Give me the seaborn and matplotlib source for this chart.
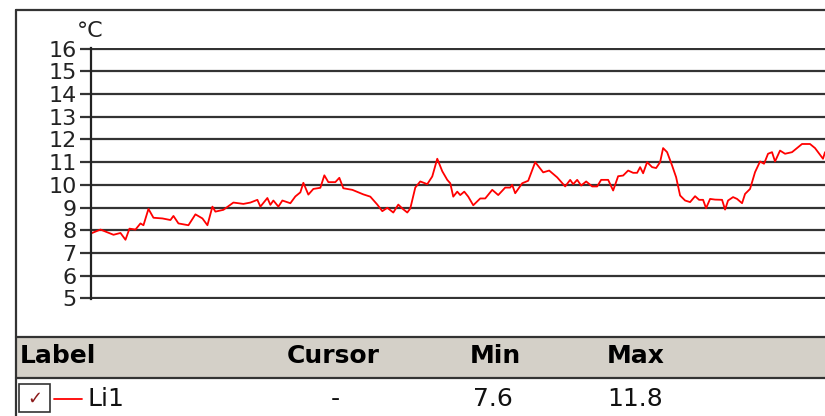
import matplotlib
matplotlib.use("Agg")
import matplotlib.pyplot as plt
import seaborn as sns
from matplotlib.lines import Line2D
from matplotlib.patches import Rectangle

# sample position (time axis, no labels) and temperature in degrees C
sample = [0, 10, 23, 30, 35, 39, 45, 50, 53, 58, 63, 72, 80, 83, 88, 98, 105, 112, 117, 122,
          125, 133, 143, 153, 160, 167, 170, 177, 180, 183, 188, 192, 200, 205, 210, 213, 218,
          223, 230, 234, 238, 245, 249, 253, 262, 273, 280, 287, 292, 297, 303, 308, 312, 317,
          320, 325, 330, 337, 342, 347, 352, 357, 360, 363, 367, 370, 374, 378, 383, 390, 395,
          402, 408, 415, 420, 422, 425, 432, 438, 445, 453, 459, 467, 475, 480, 483, 487, 491,
          496, 502, 507, 511, 518, 523, 528, 533, 538, 543, 547, 550, 553, 557, 562, 566, 570,
          573, 577, 582, 586, 590, 595, 600, 605, 609, 613, 616, 620, 625, 632, 635, 638, 643,
          647, 652, 655, 660, 665, 670, 674, 678, 682, 685, 690, 695, 702, 707, 712, 718, 720,
          725, 733, 735]
temp_c = [7.85, 8.03, 7.8, 7.88, 7.58, 8.07, 8.03, 8.3, 8.22, 8.94, 8.55, 8.52, 8.45, 8.63,
          8.3, 8.22, 8.7, 8.52, 8.22, 9.04, 8.82, 8.9, 9.22, 9.16, 9.22, 9.34, 9.04, 9.42, 9.12,
          9.31, 9.04, 9.31, 9.19, 9.49, 9.67, 10.09, 9.57, 9.82, 9.87, 10.42, 10.12, 10.12,
          10.31, 9.85, 9.78, 9.58, 9.48, 9.13, 8.84, 8.99, 8.78, 9.13, 8.96, 8.78, 8.96, 9.88,
          10.15, 10.03, 10.37, 11.15, 10.6, 10.22, 10.07, 9.48, 9.7, 9.55, 9.7, 9.48, 9.1, 9.4,
          9.4, 9.78, 9.55, 9.88, 9.88, 10.0, 9.63, 10.07, 10.18, 11.0, 10.55, 10.63, 10.33,
          9.93, 10.22, 10.03, 10.22, 9.97, 10.15, 9.93, 9.93, 10.22, 10.22, 9.75, 10.38, 10.41,
          10.63, 10.53, 10.53, 10.78, 10.51, 11.0, 10.78, 10.74, 11.0, 11.62, 11.44, 10.85,
          10.34, 9.53, 9.31, 9.24, 9.5, 9.34, 9.34, 8.97, 9.38, 9.35, 9.34, 8.91, 9.31, 9.46,
          9.38, 9.19, 9.6, 9.82, 10.56, 11.03, 10.93, 11.37, 11.44, 11.03, 11.51, 11.37, 11.44,
          11.62, 11.8, 11.8, 11.8, 11.62, 11.15, 11.44]
y_ticks = list(range(5, 17))

headers = ["Label", "Cursor", "Min", "Max"]
row = ["Li1", "-", "7.6", "11.8"]

W, H = 825, 416


def fx(x):
    return x / W


def fy(y):
    return 1 - y / H


sns.set_style("white")
plt.rcParams["font.family"] = ["DejaVu Sans"]

fig = plt.figure(figsize=(W / 100, H / 100), dpi=100)
ax = fig.add_axes([fx(90.5), fy(299), 1 - fx(90.5), fy(48) - fy(299)])

sns.lineplot(x=sample, y=temp_c, ax=ax, color="#ff0000", linewidth=1.3)

ax.set_xlim(0, 735)
ax.set_ylim(4.97, 16.03)
ax.set_yticks(y_ticks)
ax.set_xticks([])
ax.set_xlabel("")
ax.set_ylabel("")
ax.yaxis.grid(True, color="#333333", linewidth=1.6)
ax.tick_params(axis="y", direction="out", length=8, width=1.6, color="#333333",
               labelsize=16, labelcolor="#222222", pad=2, left=True)
for s in ["top", "right", "bottom"]:
    ax.spines[s].set_visible(False)
ax.spines["left"].set_color("#222222")
ax.spines["left"].set_linewidth(1.6)

fig.text(fx(90), fy(31), "°C", fontsize=16, color="#222222", ha="center", va="center")

# outer frame
fig.add_artist(Line2D([fx(16), 1], [fy(10), fy(10)], color="#333333", lw=1.6))
fig.add_artist(Line2D([fx(16), fx(16)], [fy(10), 0], color="#333333", lw=1.6))

# table header band
fig.add_artist(Rectangle((fx(17), fy(378)), 1 - fx(17), fy(337) - fy(378),
                         transform=fig.transFigure, facecolor="#d4d0c8", edgecolor="none"))
fig.add_artist(Line2D([fx(16), 1], [fy(337), fy(337)], color="#333333", lw=1.6))
fig.add_artist(Line2D([fx(16), 1], [fy(378), fy(378)], color="#333333", lw=1.6))

head_x = [20, 287, 470, 607]
for x, h in zip(head_x, headers):
    fig.text(fx(x), fy(356), h, fontsize=18, fontweight="bold", color="#000000",
             ha="left", va="center")

# row: checkbox, line sample, values
fig.add_artist(Rectangle((fx(19), fy(412)), fx(50) - fx(19), fy(384) - fy(412),
                         transform=fig.transFigure, facecolor="white",
                         edgecolor="#333333", lw=1.2))
fig.text(fx(34.5), fy(399), "✓", fontsize=13, color="#8b1a1a", ha="center", va="center")
fig.add_artist(Line2D([fx(54), fx(82)], [fy(399), fy(399)], color="#ff0000", lw=1.3))

row_x = [88, 335, 473, 607]
row_ha = ["left", "center", "left", "left"]
for x, v, ha in zip(row_x, row, row_ha):
    fig.text(fx(x), fy(399), v, fontsize=18, color="#111111", ha=ha, va="center")

fig.savefig("out.png", dpi=100)
